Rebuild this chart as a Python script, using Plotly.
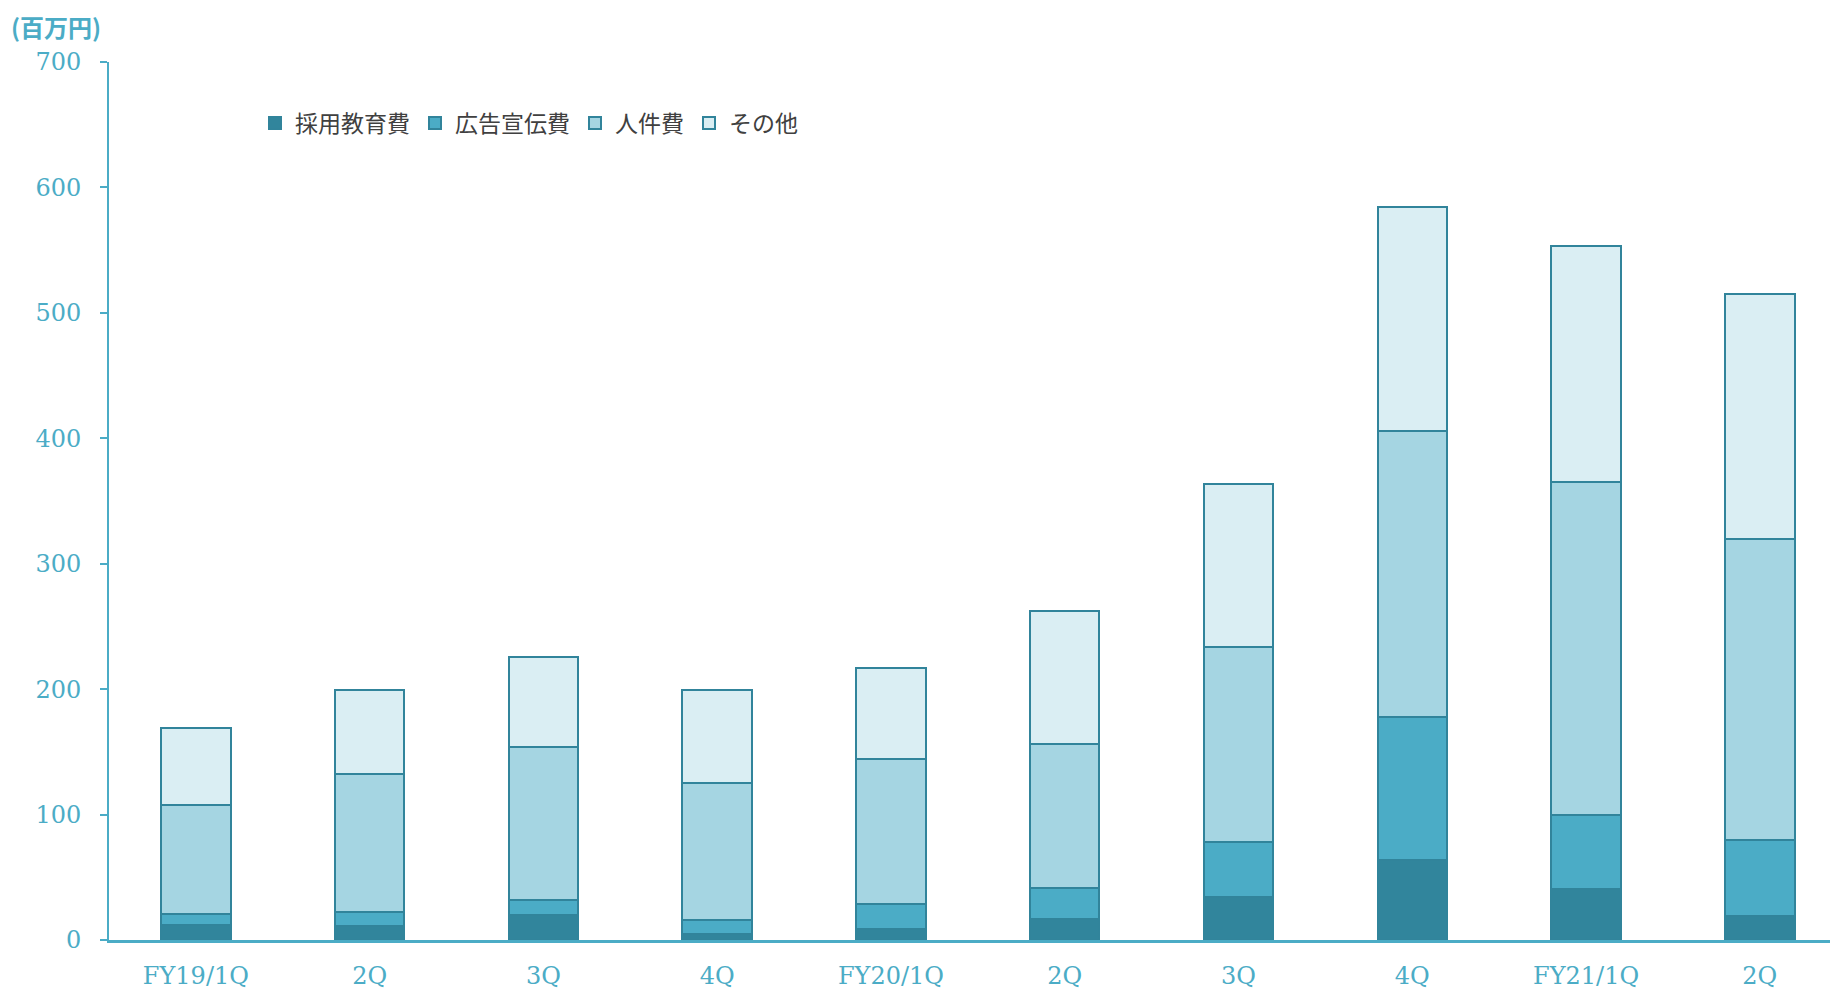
import plotly.graph_objects as go

categories = ["FY19/1Q", "2Q", "3Q", "4Q", "FY20/1Q", "2Q ", "3Q ", "4Q ", "FY21/1Q", "2Q  "]
recruit_edu = [12, 11, 20, 5, 8.5, 16.5, 34, 64, 41, 19]
advertising = [9, 11.5, 12, 11, 20, 25, 44.5, 114, 59, 61]
personnel = [87, 109.5, 122, 109.5, 115.5, 115, 155, 228, 265.5, 240]
other = [61, 67, 71.5, 73.5, 73, 106, 130, 178.5, 188, 195]

series_names = ["採用教育費", "広告宣伝費", "人件費", "その他"]
series_values = [recruit_edu, advertising, personnel, other]
series_colors = ["#31859C", "#4BACC6", "#A5D5E2", "#DAEEF3"]

AX = "#4BACC6"
EDGE = "#31849B"
TICKFONT = dict(family="DejaVu Serif", size=24, color=AX)

# page has an 8px body margin; figure coordinates = page coordinates - 8
OFF = 8
W, H = 1838, 990
ML, MT = 109 - OFF, 62 - OFF
MR = OFF
MB = H - (940 - OFF)
PW, PH = W - ML - MR, H - MT - MB

fig = go.Figure()
for name, vals, col in zip(series_names, series_values, series_colors):
    fig.add_trace(go.Bar(
        x=list(range(len(categories))), y=vals, name=name,
        marker=dict(color=col, line=dict(color=EDGE, width=2)),
        width=0.4,
    ))

fig.update_layout(
    barmode="stack",
    width=W, height=H,
    margin=dict(l=ML, r=MR, t=MT, b=MB, autoexpand=False),
    plot_bgcolor="white", paper_bgcolor="white",
    showlegend=True,
    legend=dict(
        orientation="h", traceorder="normal",
        x=(255 - OFF - ML) / PW, y=1 - (123 - OFF - MT) / PH, xanchor="left", yanchor="middle",
        font=dict(family="Noto Sans CJK JP", size=23, color="#404040"),
        itemwidth=30, bgcolor="rgba(0,0,0,0)",
    ),
    xaxis=dict(
        tickmode="array",
        tickvals=list(range(len(categories))),
        ticktext=[c.strip() for c in categories],
        range=[-0.5, 9.45],
        showline=True, linecolor=AX, linewidth=2.5,
        ticks="", showgrid=False, zeroline=False,
        tickfont=TICKFONT, ticklabelstandoff=12,
    ),
    yaxis=dict(
        range=[0, 700], dtick=100, tick0=0,
        showline=True, linecolor=AX, linewidth=2,
        ticks="outside", ticklen=7, tickwidth=2, tickcolor=AX,
        showgrid=False, zeroline=False,
        tickfont=TICKFONT, ticklabelstandoff=14,
    ),
    annotations=[dict(
        text="<b>(百万円)</b>", xref="paper", yref="paper",
        x=(9 - OFF - ML) / PW, y=1 + (MT - (26 - OFF)) / PH, xanchor="left", yanchor="middle",
        showarrow=False,
        font=dict(family="Noto Sans CJK JP", size=24, color=AX),
    )],
)

fig.write_html("out.html")
